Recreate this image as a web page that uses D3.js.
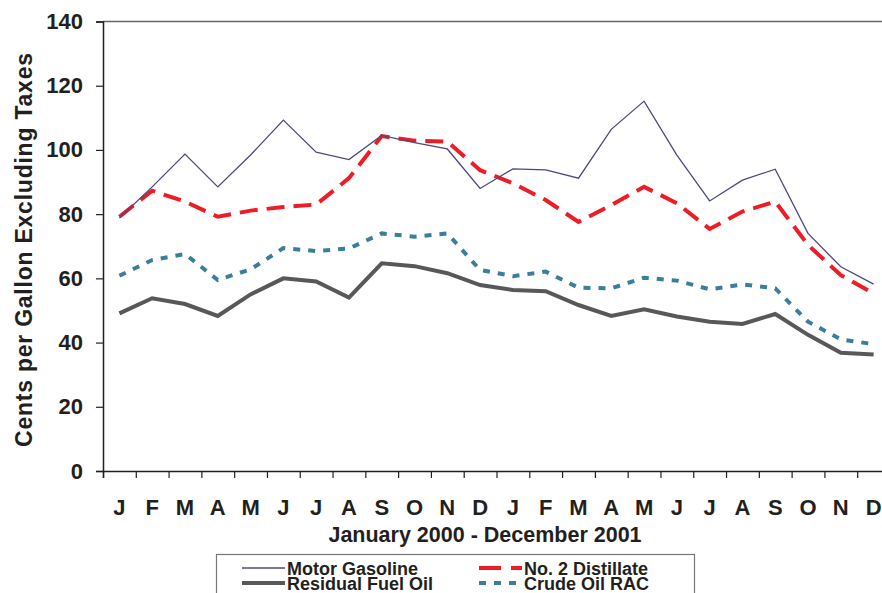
<!DOCTYPE html>
<html>
<head>
<meta charset="utf-8">
<script src="https://cdn.jsdelivr.net/npm/d3@7.9.0/dist/d3.min.js"></script>
<style>
  html, body { margin: 0; padding: 0; background: #fff; }
  svg text { font-family: Arial, "Liberation Sans", sans-serif; font-weight: bold; fill: #231f20; }
</style>
</head>
<body>
<div id="chart"></div>
<script>
// ---------- Data ----------
const months = ["J","F","M","A","M","J","J","A","S","O","N","D",
                "J","F","M","A","M","J","J","A","S","O","N","D"];

const motorGasoline = [78.8, 88.5, 98.7, 88.5, 98.4, 109.3, 99.3, 97.0, 104.5, 102.3, 100.3, 88.0,
                       94.1, 93.8, 91.2, 106.4, 115.2, 98.4, 84.1, 90.6, 94.0, 74.0, 63.6, 58.2];
const no2Distillate = [79.2, 87.3, 83.9, 79.2, 81.1, 82.2, 83.0, 91.2, 104.3, 102.9, 102.6, 93.7,
                       89.6, 84.4, 77.6, 82.8, 88.5, 83.4, 75.4, 80.8, 83.9, 70.4, 61.0, 55.3];
const residualFuelOil = [49.1, 53.8, 52.0, 48.3, 55.0, 60.0, 59.0, 54.0, 64.7, 63.8, 61.6, 57.9,
                         56.4, 56.0, 51.7, 48.3, 50.4, 48.1, 46.5, 45.8, 48.9, 42.4, 36.8, 36.3];
const crudeOilRAC = [60.8, 65.7, 67.6, 59.5, 62.8, 69.4, 68.5, 69.3, 74.0, 73.0, 74.0, 62.6,
                     60.7, 62.1, 57.1, 56.9, 60.2, 59.3, 56.6, 58.1, 56.9, 46.5, 41.0, 39.5];

const yTicks = [0, 20, 40, 60, 80, 100, 120, 140];

const series = [
  { name: "Residual Fuel Oil", values: residualFuelOil, color: "#58585a", width: 4, dash: null },
  { name: "Crude Oil RAC", values: crudeOilRAC, color: "#3b7e99", width: 4, dash: "7,8" },
  { name: "No. 2 Distillate", values: no2Distillate, color: "#ee1c25", width: 4, dash: "18,9" },
  { name: "Motor Gasoline", values: motorGasoline, color: "#4b4a7e", width: 1.3, dash: null }
];

// ---------- Chart ----------
const width = 882, height = 593;
const plot = { left: 103, right: 890, top: 21.5, bottom: 471 };

const svg = d3.select("#chart")
  .append("svg")
  .attr("width", width)
  .attr("height", height);

const xScale = d3.scaleBand()
  .domain(d3.range(months.length))
  .range([plot.left, plot.right])
  .paddingInner(0).paddingOuter(0);

const xEdges = d3.scaleLinear()
  .domain([0, months.length])
  .range([plot.left, plot.right]);

const yScale = d3.scaleLinear()
  .domain([0, 140])
  .range([plot.bottom, plot.top]);

// top border of the plot area
svg.append("line")
  .attr("x1", plot.left).attr("x2", plot.right)
  .attr("y1", yScale(140)).attr("y2", yScale(140))
  .attr("stroke", "#666").attr("stroke-width", 1.5);

// y axis
const yAxis = svg.append("g")
  .attr("transform", `translate(${plot.left},0)`)
  .call(d3.axisLeft(yScale).tickValues(yTicks).tickSize(7).tickPadding(13));
yAxis.select(".domain").attr("stroke", "#231f20").attr("stroke-width", 1.5);
yAxis.selectAll(".tick line").attr("stroke", "#231f20").attr("stroke-width", 1.2);
yAxis.selectAll(".tick text")
  .attr("font-size", 22)
  .attr("font-family", "Arial, 'Liberation Sans', sans-serif")
  .attr("font-weight", "bold")
  .attr("fill", "#231f20");

// x axis: ticks on the month boundaries
const xAxis = svg.append("g")
  .attr("transform", `translate(0,${plot.bottom})`)
  .call(d3.axisBottom(xEdges).tickValues(d3.range(months.length + 1)).tickSize(7).tickFormat(""));
xAxis.select(".domain").attr("stroke", "#231f20").attr("stroke-width", 1.5);
xAxis.selectAll(".tick line").attr("stroke", "#231f20").attr("stroke-width", 1.2);

// month labels
svg.append("g")
  .selectAll("text")
  .data(months)
  .join("text")
  .attr("x", (d, i) => xScale(i) + xScale.bandwidth() / 2)
  .attr("y", plot.bottom + 44)
  .attr("text-anchor", "middle")
  .attr("font-size", 22)
  .text(d => d);

svg.append("text")
  .attr("x", 485)
  .attr("y", 542)
  .attr("text-anchor", "middle")
  .attr("font-size", 21.5)
  .text("January 2000 - December 2001");

svg.append("text")
  .attr("transform", "translate(32,250) rotate(-90)")
  .attr("text-anchor", "middle")
  .attr("font-size", 23)
  .attr("textLength", 394)
  .attr("lengthAdjust", "spacing")
  .text("Cents per Gallon Excluding Taxes");

// lines
const line = d3.line()
  .x((d, i) => xScale(i) + xScale.bandwidth() / 2)
  .y(d => yScale(d));

svg.append("g")
  .selectAll("path")
  .data(series)
  .join("path")
  .attr("d", d => line(d.values))
  .attr("fill", "none")
  .attr("stroke", d => d.color)
  .attr("stroke-width", d => d.width)
  .attr("stroke-dasharray", d => d.dash)
  .attr("stroke-linejoin", "miter");

// ---------- Legend ----------
const legend = svg.append("g");
legend.append("rect")
  .attr("x", 216.5).attr("y", 554.5)
  .attr("width", 478).attr("height", 60)
  .attr("fill", "#fff")
  .attr("stroke", "#777").attr("stroke-width", 1.2);

const legendItems = [
  { s: series[3], x: 242, y: 568 },
  { s: series[2], x: 479, y: 568 },
  { s: series[0], x: 242, y: 583 },
  { s: series[1], x: 479, y: 583 }
];

legendItems.forEach(({ s, x, y }) => {
  legend.append("line")
    .attr("x1", x).attr("x2", x + 43)
    .attr("y1", y).attr("y2", y)
    .attr("stroke", s.color)
    .attr("stroke-width", s.width)
    .attr("stroke-dasharray", s.dash === "18,9" ? "22,10" : s.dash);
  legend.append("text")
    .attr("x", x + 45)
    .attr("y", y + 7)
    .attr("font-size", 18)
    .text(s.name);
});
</script>
</body>
</html>
